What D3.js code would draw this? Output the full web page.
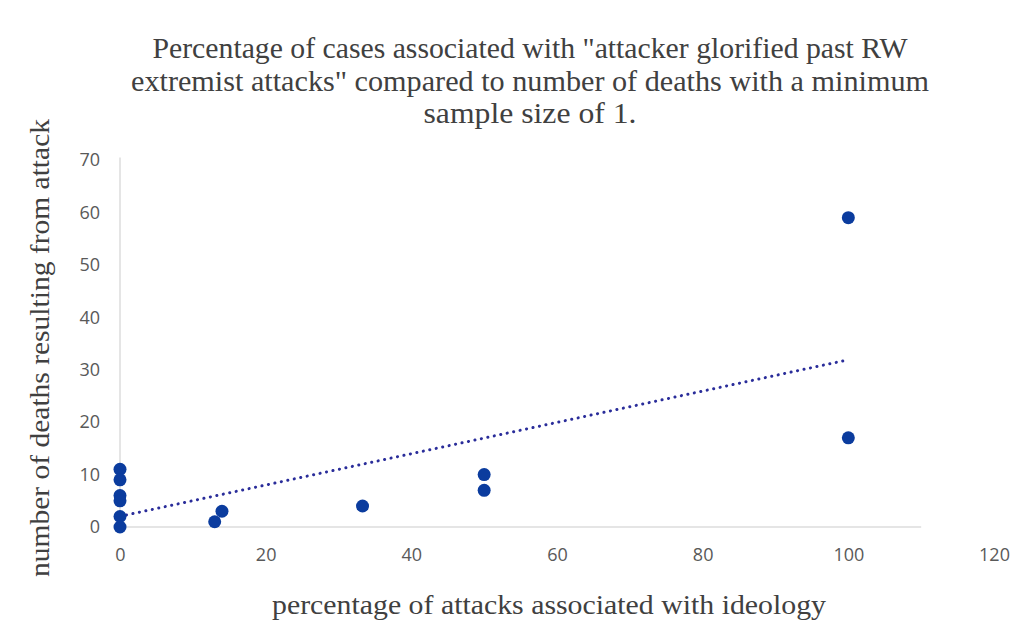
<!DOCTYPE html>
<html><head><meta charset="utf-8">
<script src="https://cdn.jsdelivr.net/npm/d3@7"></script>
<style>body{margin:0;background:#fff}svg{display:block}</style>
</head><body>
<svg id="c" width="1019" height="638"></svg>
<script>
const titleLines = ['Percentage of cases associated with "attacker glorified past RW', 'extremist attacks" compared to number of deaths with a minimum', 'sample size of 1.'];
const xTitle = "percentage of attacks associated with ideology";
const yTitle = "number of deaths resulting from attack";
const xTicks = [0, 20, 40, 60, 80, 100, 120];
const yTicks = [0, 10, 20, 30, 40, 50, 60, 70];
const pctValues = [0, 0, 0, 0, 0, 0, 13, 14, 33.3, 50, 50, 100, 100];
const deathValues = [11, 9, 6, 5, 2, 0, 1, 3, 4, 10, 7, 59, 17];

const svg = d3.select("#c");
const x = d3.scaleLinear().domain([0, 120]).range([120, 994]);
const y = d3.scaleLinear().domain([0, 70]).range([527, 160]);

// axis lines
svg.append("line").attr("x1", x(0)).attr("x2", x(110)).attr("y1", y(0)).attr("y2", y(0))
  .attr("stroke", "#dcdcdc").attr("stroke-width", 1.5);
svg.append("line").attr("x1", x(0)).attr("x2", x(0)).attr("y1", y(0)).attr("y2", y(70.5))
  .attr("stroke", "#dcdcdc").attr("stroke-width", 1.5);

// tick labels via axes
const xAxis = svg.append("g").attr("transform", `translate(0,${y(0)})`)
  .call(d3.axisBottom(x).tickValues(xTicks).tickSize(0).tickPadding(21));
const yAxis = svg.append("g").attr("transform", `translate(${x(0)},0)`)
  .call(d3.axisLeft(y).tickValues(yTicks).tickSize(0).tickPadding(20));
[xAxis, yAxis].forEach(g => {
  g.select(".domain").remove();
  g.selectAll("text").attr("font-family", "'Open Sans', 'Liberation Sans', sans-serif")
    .attr("font-size", 18).attr("fill", "#595959");
});

// trendline (least squares)
const mx = d3.mean(pctValues), my = d3.mean(deathValues);
let sxy = 0, sxx = 0;
pctValues.forEach((v, i) => { sxy += (v - mx) * (deathValues[i] - my); sxx += (v - mx) * (v - mx); });
const slope = sxy / sxx, icpt = my - slope * mx;
svg.append("line").attr("x1", x(0)).attr("y1", y(icpt)).attr("x2", x(100)).attr("y2", y(icpt + slope * 100))
  .attr("stroke", "#2a2d9a").attr("stroke-width", 3).attr("stroke-dasharray", "0.1 6.5")
  .attr("stroke-linecap", "round");

// points
svg.append("g").selectAll("circle").data(pctValues).join("circle")
  .attr("cx", d => x(d)).attr("cy", (d, i) => y(deathValues[i])).attr("r", 6.5)
  .attr("fill", "#0b3c9e");

// title
const serif = "'Liberation Serif', Tinos, 'Times New Roman', Times, serif";
const tW = [755, 798, 213];
const tY = [58, 91, 123];
titleLines.forEach((t, i) => {
  svg.append("text").attr("x", 530).attr("y", tY[i]).attr("text-anchor", "middle")
    .attr("font-family", serif).attr("font-size", 29).attr("fill", "#404040")
    .attr("textLength", tW[i]).attr("lengthAdjust", "spacingAndGlyphs").text(t);
});
svg.append("text").attr("x", 549).attr("y", 614).attr("text-anchor", "middle")
  .attr("font-family", serif).attr("font-size", 28).attr("fill", "#404040")
  .attr("textLength", 554).attr("lengthAdjust", "spacingAndGlyphs").text(xTitle);
svg.append("text").attr("transform", "translate(49,348) rotate(-90)").attr("text-anchor", "middle")
  .attr("font-family", serif).attr("font-size", 28).attr("fill", "#404040")
  .attr("textLength", 458).attr("lengthAdjust", "spacingAndGlyphs").text(yTitle);
</script>
</body></html>
